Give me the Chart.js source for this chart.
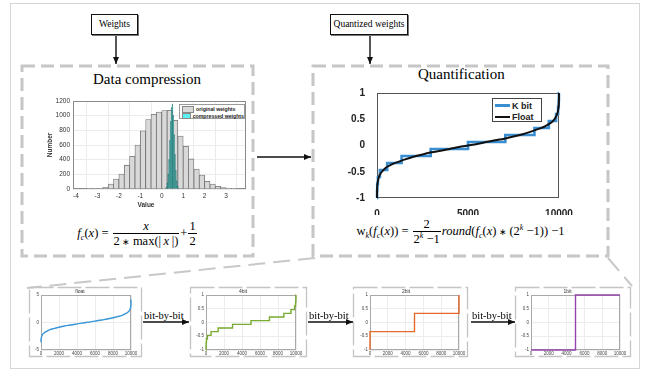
<!DOCTYPE html>
<html>
<head>
<meta charset="utf-8">
<title>Weight compression and quantization</title>
<script src="https://cdn.jsdelivr.net/npm/chart.js@4.4.1/dist/chart.umd.min.js"></script>
<style>
  html, body { margin:0; padding:0; background:#fff; }
  #stage { position:relative; width:650px; height:372px; overflow:hidden; background:#fff;
           font-family:"Liberation Serif","Times New Roman",serif; color:#000; }
  .abs { position:absolute; }
  canvas.abs { display:block; }
  .tag { position:absolute; border:1.6px solid #111; box-shadow:1px 1px 0 #777; background:#fff;
         font-size:9.5px; text-align:center; box-sizing:border-box; line-height:18px; white-space:nowrap; }
  .ttl { position:absolute; font-size:15px; line-height:15px; white-space:nowrap; }
  .eq { position:absolute; text-align:center; font-size:12.5px; white-space:nowrap; }
  .eq sub, .eq sup { font-size:8px; line-height:0; }
  .eq .st { font-size:9px; }
  .frac { display:inline-block; vertical-align:middle; text-align:center; margin:0 1px; }
  .frac > span { display:block; line-height:1.15; padding:0 1px; }
  .frac > span:first-child { border-bottom:1px solid #000; }
  .bbb { position:absolute; font-size:10.5px; line-height:11px; white-space:nowrap; }
  .lg { position:absolute; background:#fff; box-sizing:border-box; font-family:"Liberation Sans",Arial,sans-serif; font-weight:bold; color:#222; }
  .lg .row { display:flex; align-items:center; white-space:nowrap; }
  .axt { position:absolute; font-family:"Liberation Sans",Arial,sans-serif; font-weight:bold; font-size:6.5px;
         line-height:8px; color:#333; white-space:nowrap; text-align:center; }
</style>
</head>
<body>
<div id="stage">
  <svg class="abs" style="left:0;top:0" width="650" height="372">
    <defs>
      <marker id="ah" markerWidth="7" markerHeight="6" refX="7" refY="3" orient="auto" markerUnits="userSpaceOnUse">
        <path d="M0,0 L7,3 L0,6 z" fill="#111"/>
      </marker>
    </defs>
    <!-- outer frame -->
    <rect x="10.5" y="3.5" width="629" height="365" fill="none" stroke="#d6d6d6" stroke-width="1"/>
    <!-- stage boxes -->
    <rect x="22" y="66" width="231" height="190" fill="none" stroke="#c6c6c6" stroke-width="3" stroke-dasharray="13 6"/>
    <rect x="313" y="66" width="295" height="190" fill="none" stroke="#c6c6c6" stroke-width="3" stroke-dasharray="13 6"/>
    <!-- flow arrows -->
    <line x1="116" y1="36" x2="116" y2="64" stroke="#111" stroke-width="1.4" marker-end="url(#ah)"/>
    <line x1="370" y1="36" x2="370" y2="64" stroke="#111" stroke-width="1.4" marker-end="url(#ah)"/>
    <line x1="257" y1="157" x2="311" y2="157" stroke="#111" stroke-width="1.4" marker-end="url(#ah)"/>
    <!-- zoom-out guides to the bit-by-bit row -->
    <line x1="315" y1="258" x2="27" y2="288" stroke="#c8c8c8" stroke-width="2" stroke-dasharray="17 8"/>
    <line x1="608" y1="258" x2="632" y2="286" stroke="#c8c8c8" stroke-width="2" stroke-dasharray="17 8"/>
    <!-- small chart frames -->
    <rect x="29.5" y="287.5" width="112" height="69" fill="none" stroke="#c4c4c4" stroke-width="1.3" stroke-dasharray="24 4"/>
    <rect x="190.5" y="287.5" width="116" height="69" fill="none" stroke="#c4c4c4" stroke-width="1.3" stroke-dasharray="24 4"/>
    <rect x="353.5" y="287.5" width="114" height="69" fill="none" stroke="#c4c4c4" stroke-width="1.3" stroke-dasharray="24 4"/>
    <rect x="515.5" y="287.5" width="115" height="69" fill="none" stroke="#c4c4c4" stroke-width="1.3" stroke-dasharray="24 4"/>
    <!-- bit-by-bit arrows -->
    <line x1="143" y1="322" x2="189" y2="322" stroke="#111" stroke-width="1.4" marker-end="url(#ah)"/>
    <line x1="308" y1="322" x2="353" y2="322" stroke="#111" stroke-width="1.4" marker-end="url(#ah)"/>
    <line x1="471" y1="322" x2="515" y2="322" stroke="#111" stroke-width="1.4" marker-end="url(#ah)"/>
  </svg>

  <div class="tag" style="left:91px;top:14px;width:47px;height:21px;">Weights</div>
  <div class="tag" style="left:330px;top:14px;width:78px;height:21px;">Quantized weights</div>

  <div class="ttl" style="left:93px;top:72px;">Data compression</div>
  <div class="ttl" style="left:418px;top:67px;">Quantification</div>

  <canvas id="hist" class="abs" style="left:46px;top:94px" width="206" height="115"></canvas>
  <canvas id="quant" class="abs" style="left:340px;top:83px" width="240" height="132"></canvas>

  <div class="axt" style="left:126px;top:201px;width:40px;">Value</div>
  <div class="axt" style="left:30px;top:141px;width:40px;transform:rotate(-90deg);">Number</div>

  <div id="histLegend" class="lg" style="left:179px;top:104px;width:66px;height:15px;border:0.7px solid #9a9a9a;padding:1px 0 0 2px;"></div>
  <div id="quantLegend" class="lg" style="left:492px;top:98px;width:50px;height:24px;border:1px solid #444;padding:1px 0 0 2px;"></div>

  <div class="eq" style="left:22px;top:219px;width:231px;">
    <i>f</i><sub><i>c</i></sub>(<i>x</i>) = <span class="frac"><span><i>x</i></span><span>2&thinsp;<span class="st">∗</span>&thinsp;max(|&thinsp;<i>x</i>&thinsp;|)</span></span>+<span class="frac"><span>1</span><span>2</span></span>
  </div>
  <div class="eq" style="left:313px;top:217px;width:295px;">
    w<sub><i>k</i></sub>(<i>f</i><sub><i>c</i></sub>(<i>x</i>)) = <span class="frac"><span>2</span><span>2<sup><i>k</i></sup> −1</span></span><i>round</i>(<i>f</i><sub><i>c</i></sub>(<i>x</i>)&thinsp;<span class="st">∗</span>&thinsp;(2<sup><i>k</i></sup> −1)) −1
  </div>

  <canvas id="sFloat" class="abs" style="left:29px;top:287px" width="113" height="70"></canvas>
  <canvas id="s4" class="abs" style="left:190px;top:287px" width="117" height="70"></canvas>
  <canvas id="s2" class="abs" style="left:353px;top:287px" width="115" height="70"></canvas>
  <canvas id="s1" class="abs" style="left:515px;top:287px" width="116" height="70"></canvas>

  <div class="bbb" style="left:144px;top:310px;">bit-by-bit</div>
  <div class="bbb" style="left:309px;top:310px;">bit-by-bit</div>
  <div class="bbb" style="left:472px;top:310px;">bit-by-bit</div>
</div>

<script>
// ---- histogram of the raw weights (bin width 0.25) ----
const weightBins = [-3.375, -3.125, -2.875, -2.625, -2.375, -2.125, -1.875, -1.625, -1.375, -1.125,
                    -0.875, -0.625, -0.375, -0.125, 0.125, 0.375, 0.625, 0.875, 1.125, 1.375,
                    1.625, 1.875, 2.125, 2.375, 2.625, 2.875, 3.125, 3.375];
const weightCounts = [2, 4, 9, 23, 68, 135, 203, 325, 447, 600,
                      794, 947, 1019, 1050, 1069, 1073, 938, 722, 582, 410,
                      271, 190, 104, 68, 36, 18, 9, 4];

// ---- histogram of the compressed weights (bin width 0.04) ----
const compressedBins = [0.18, 0.22, 0.26, 0.30, 0.34, 0.38, 0.42, 0.46,
                        0.50, 0.54, 0.58, 0.62, 0.66, 0.70, 0.74, 0.78];
const compressedCounts = [6, 25, 80, 200, 400, 660, 920, 1110,
                          1150, 1000, 740, 470, 250, 110, 35, 8];

// ---- sorted weights (index -> value) ----
const sortedIndex = [0, 2, 10, 30, 60, 100, 200, 350, 500, 750, 1000, 1500, 2000, 2500, 3000, 3500,
                     4000, 4500, 5000, 5500, 6000, 6500, 7000, 7500, 8000, 8500, 9000, 9250, 9500,
                     9650, 9800, 9900, 9940, 9970, 9990, 9998, 10000];
const floatNormalized = [-1, -0.92, -0.8, -0.72, -0.66, -0.6, -0.53, -0.47, -0.42, -0.37, -0.33, -0.27,
                         -0.215, -0.17, -0.13, -0.1, -0.065, -0.03, 0, 0.03, 0.065, 0.1, 0.13, 0.17,
                         0.215, 0.27, 0.33, 0.37, 0.42, 0.46, 0.53, 0.6, 0.65, 0.72, 0.8, 0.9, 1];
const floatRaw = [-3.6, -3.4, -3.1, -2.85, -2.6, -2.4, -2.1, -1.9, -1.7, -1.5, -1.3, -1.08,
                  -0.86, -0.68, -0.52, -0.4, -0.26, -0.12, 0, 0.12, 0.26, 0.4, 0.52, 0.68,
                  0.86, 1.08, 1.3, 1.5, 1.7, 1.85, 2.1, 2.4, 2.6, 2.9, 3.2, 3.7, 4.2];

// ---- quantized levels: index where each level starts ----
const k4Start = [0, 4, 14, 50, 160, 560, 1350, 2950, 5000, 7050, 8650, 9440, 9840, 9950, 9986, 9996, 10000];
const k4Level = [-1, -0.867, -0.733, -0.6, -0.467, -0.333, -0.2, -0.067, 0.067, 0.2, 0.333, 0.467,
                 0.6, 0.733, 0.867, 1, 1];
const k2Start = [0, 0, 5000, 10000];
const k2Level = [-1, -0.333, 0.333, 1];
const k1Start = [0, 5000, 10000];
const k1Level = [-1, 1, 1];

// ---- tick values ----
const histTicksX = [-4, -3, -2, -1, 0, 1, 2, 3];
const histTicksY = [0, 200, 400, 600, 800, 1000, 1200];
const quantTicksX = [0, 5000, 10000];
const unitTicksY = [-1, -0.5, 0, 0.5, 1];
const smallTicksX = [0, 2000, 4000, 6000, 8000, 10000];
const floatTicksY = [-5, 0, 5];

const pairs = (xs, ys) => xs.map((x, i) => ({ x, y: ys[i] }));
const fixedTicks = values => scale => { scale.ticks = values.map(v => ({ value: v })); };

Chart.defaults.font.family = "'Liberation Sans', Arial, sans-serif";
Chart.defaults.color = '#333';
Chart.defaults.animation = false;

// closed axes box around the plotting area, drawn underneath the data
const framePlugin = {
  id: 'frame',
  beforeDatasetsDraw(chart, args, opts) {
    if (!opts || !opts.color) return;
    const { ctx, chartArea: a } = chart;
    ctx.save();
    ctx.strokeStyle = opts.color;
    ctx.lineWidth = opts.width || 1;
    ctx.strokeRect(Math.round(a.left) + 0.5, Math.round(a.top) + 0.5,
                   Math.round(a.right - a.left) - 1, Math.round(a.bottom - a.top) - 1);
    ctx.restore();
  }
};

// ---------- data compression histogram ----------
const histChart = new Chart(document.getElementById('hist'), {
  type: 'bar',
  data: {
    datasets: [
      { label: 'original weights', data: pairs(weightBins, weightCounts), xAxisID: 'x',
        backgroundColor: '#d9d9d9', borderColor: '#707070', borderWidth: 0.8,
        barPercentage: 1, categoryPercentage: 1, grouped: false, order: 1, swatch: '#d9d9d9' },
      { label: 'compressed weights', data: pairs(compressedBins, compressedCounts), xAxisID: 'x2',
        backgroundColor: '#289a97', borderColor: '#1c6664', borderWidth: 0.5,
        barPercentage: 1, categoryPercentage: 1, grouped: false, order: 0, swatch: '#5ff1f1' }
    ]
  },
  options: {
    responsive: false, events: [],
    layout: { padding: { left: 0, top: 7, right: 6, bottom: 0 } },
    plugins: { legend: { display: false }, tooltip: { enabled: false }, frame: { color: '#8a8a8a' } },
    scales: {
      x: { type: 'linear', min: -4.14, max: 3.93, offset: false,
           grid: { color: '#ebebeb', drawTicks: false }, border: { display: false },
           afterBuildTicks: fixedTicks(histTicksX),
           ticks: { padding: 3, maxRotation: 0, autoSkip: false, font: { size: 6.5 }, color: '#333' },
           afterFit: s => { s.height = 20; } },
      x2: { type: 'linear', min: -4.14, max: 3.93, offset: false, display: false },
      y: { min: 0, max: 1200,
           grid: { color: '#ebebeb', drawTicks: false }, border: { display: false },
           afterBuildTicks: fixedTicks(histTicksY),
           ticks: { padding: 3, autoSkip: false, font: { size: 6.5 }, color: '#333', callback: v => String(v) },
           afterFit: s => { s.width = 27; } }
    }
  },
  plugins: [framePlugin]
});

// ---------- quantification: K bit vs float ----------
const quantChart = new Chart(document.getElementById('quant'), {
  type: 'line',
  data: {
    datasets: [
      { label: 'K bit', data: pairs(k4Start, k4Level), stepped: true,
        borderColor: '#3a8fd2', borderWidth: 2.6, pointRadius: 0, order: 1, clip: 3 },
      { label: 'Float', data: pairs(sortedIndex, floatNormalized), cubicInterpolationMode: 'monotone',
        borderColor: '#111111', borderWidth: 2, pointRadius: 0, order: 0, clip: 3 }
    ]
  },
  options: {
    responsive: false, events: [],
    layout: { padding: { left: 0, top: 10, right: 21, bottom: 0 } },
    plugins: { legend: { display: false }, tooltip: { enabled: false }, frame: { color: '#555' } },
    scales: {
      x: { type: 'linear', min: 0, max: 10000, grid: { display: false }, border: { display: false },
           afterBuildTicks: fixedTicks(quantTicksX),
           ticks: { padding: 2, maxRotation: 0, autoSkip: false, font: { size: 10, weight: 'bold' }, color: '#222',
                    callback: v => String(v) },
           afterFit: s => { s.height = 17; } },
      y: { min: -1, max: 1, grid: { display: false }, border: { display: false },
           afterBuildTicks: fixedTicks(unitTicksY),
           ticks: { padding: 4, autoSkip: false, font: { size: 10, weight: 'bold' }, color: '#222',
                    callback: v => String(v) },
           afterFit: s => { s.width = 37; } }
    }
  },
  plugins: [framePlugin]
});

// ---------- bit-by-bit row ----------
function smallChart(id, title, points, style, yTicks, yWidth, padRight) {
  return new Chart(document.getElementById(id), {
    type: 'line',
    data: { datasets: [{ label: title, data: points, stepped: style.stepped || false,
                         borderColor: style.c, borderWidth: 1.4, pointRadius: 0, clip: 2,
                         cubicInterpolationMode: 'monotone' }] },
    options: {
      responsive: false, events: [],
      layout: { padding: { left: 0, top: 2, right: padRight, bottom: 0 } },
      plugins: {
        legend: { display: false }, tooltip: { enabled: false },
        title: { display: true, text: title, font: { size: 5, weight: 'normal' }, color: '#333', padding: 0 },
        frame: { color: '#a8a8a8' }
      },
      scales: {
        x: { type: 'linear', min: 0, max: 10000, grid: { color: '#ececec', drawTicks: false }, border: { display: false },
             afterBuildTicks: fixedTicks(smallTicksX),
             ticks: { padding: 1, maxRotation: 0, autoSkip: false, font: { size: 4.5 }, color: '#444',
                      callback: v => String(v) },
             afterFit: s => { s.height = 7; } },
        y: { min: yTicks[0], max: yTicks[yTicks.length - 1], grid: { color: '#ececec', drawTicks: false },
             border: { display: false },
             afterBuildTicks: fixedTicks(yTicks),
             ticks: { padding: 2, autoSkip: false, font: { size: 4.5 }, color: '#444', callback: v => String(v) },
             afterFit: s => { s.width = yWidth; } }
      }
    },
    plugins: [framePlugin]
  });
}

smallChart('sFloat', 'float', pairs(sortedIndex, floatRaw), { c: '#3996d8' }, floatTicksY, 12, 11);
smallChart('s4', '4bit', pairs(k4Start, k4Level), { c: '#77ac30', stepped: true }, unitTicksY, 16, 11);
smallChart('s2', '2bit', pairs(k2Start, k2Level), { c: '#e8692c', stepped: true }, unitTicksY, 17, 9);
smallChart('s1', '1bit', pairs(k1Start, k1Level), { c: '#9446ad', stepped: true }, unitTicksY, 16, 11);

// ---------- legends built from the dataset definitions ----------
const histLegend = document.getElementById('histLegend');
histChart.data.datasets.forEach(ds => {
  const row = document.createElement('div');
  row.className = 'row';
  row.style.height = '6.5px';
  row.innerHTML = '<span style="display:inline-block;width:10px;height:4.5px;border:0.5px solid #888;background:' +
    ds.swatch + ';margin-right:2px"></span><span style="font-size:5.2px;line-height:6px">' + ds.label + '</span>';
  histLegend.appendChild(row);
});
const quantLegend = document.getElementById('quantLegend');
quantChart.data.datasets.forEach(ds => {
  const row = document.createElement('div');
  row.className = 'row';
  row.style.height = '11px';
  row.innerHTML = '<span style="display:inline-block;width:15px;height:' + ds.borderWidth + 'px;background:' +
    ds.borderColor + ';margin-right:2px"></span><span style="font-size:9px;line-height:10px">' + ds.label + '</span>';
  quantLegend.appendChild(row);
});
</script>
</body>
</html>
